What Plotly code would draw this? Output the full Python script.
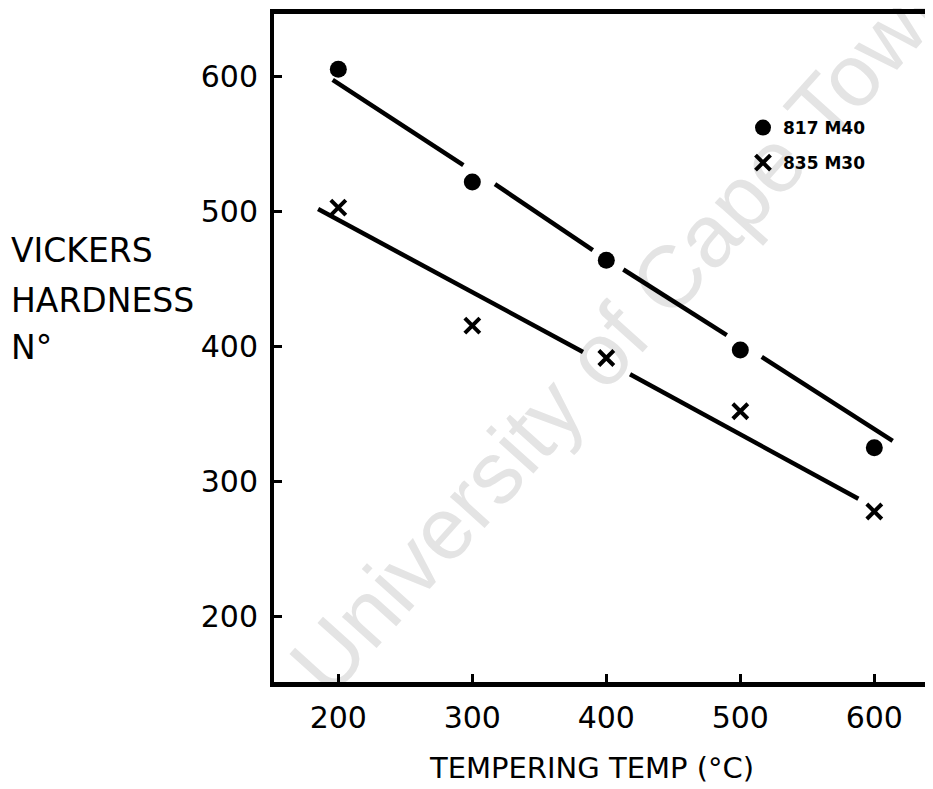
import plotly.graph_objects as go

# ---- data ----
temps = [200, 300, 400, 500, 600]
hv_817_m40 = [605.5, 522, 464, 397.5, 325]
hv_835_m30 = [503, 415.5, 391.5, 352, 277.7]

# hand-drawn fit lines (broken around some points)
fit_817_x = [195.8, 293.3, None, 316.9, 389.9, None, 412.7, 489.9, None, 516.0, 613.7]
fit_817_y = [597.6, 534.5, None, 520.4, 471.4, None, 457.1, 408.4, None, 392.3, 330.0]
fit_835_x = [184.9, 382.6, None, 417.7, 588.1]
fit_835_y = [501.9, 396.0, None, 379.4, 287.2]

x_ticks = [200, 300, 400, 500, 600]
y_ticks = [200, 300, 400, 500, 600]

FONT = "DejaVu Sans"

# page offset of the body margin (8 px) is compensated in the figure size/margins
PLOT_L, PLOT_R, PLOT_T, PLOT_B = 274, 933, 14, 682
PW, PH = PLOT_R - PLOT_L, PLOT_B - PLOT_T


def px(xp):
    return (xp - PLOT_L) / PW


def py(yp):
    return (PLOT_B - yp) / PH


fig = go.Figure()
fig.add_trace(go.Scatter(x=fit_817_x, y=fit_817_y, mode="lines",
                         line=dict(color="black", width=4.5),
                         showlegend=False, hoverinfo="skip", connectgaps=False))
fig.add_trace(go.Scatter(x=fit_835_x, y=fit_835_y, mode="lines",
                         line=dict(color="black", width=4.5),
                         showlegend=False, hoverinfo="skip", connectgaps=False))
fig.add_trace(go.Scatter(x=temps, y=hv_817_m40, mode="markers", name="817 M40",
                         legendgroup="a",
                         marker=dict(symbol="circle", size=17, color="black")))
fig.add_trace(go.Scatter(x=temps, y=hv_835_m30, mode="markers", name="835 M30",
                         legendgroup="b",
                         marker=dict(symbol="x-thin-open", size=15, color="black",
                                     line=dict(color="black", width=4))))

fig.update_layout(
    width=925, height=781,
    margin=dict(l=266, r=0, t=6, b=107),
    paper_bgcolor="white", plot_bgcolor="white",
    font=dict(family=FONT, color="black"),
    showlegend=True,
    legend=dict(x=px(743), y=py(110), xanchor="left", yanchor="top",
                bgcolor="rgba(0,0,0,0)", tracegroupgap=10,
                font=dict(family=FONT, size=17, color="black", weight="bold")),
    xaxis=dict(range=[152.0, 643.8], tickvals=x_ticks, ticktext=[str(v) for v in x_ticks],
               showgrid=False, zeroline=False, showline=True, linecolor="black",
               linewidth=5, mirror=True, ticks="inside", ticklen=8, tickwidth=3,
               tickcolor="black", ticklabelstandoff=5,
               tickfont=dict(family=FONT, size=30, color="black")),
    yaxis=dict(range=[151.3, 646.5], tickvals=y_ticks, ticktext=[str(v) for v in y_ticks],
               showgrid=False, zeroline=False, showline=True, linecolor="black",
               linewidth=4, mirror=False, ticks="inside", ticklen=8, tickwidth=3,
               tickcolor="black", ticklabelstandoff=6,
               tickfont=dict(family=FONT, size=30, color="black")),
)

# watermark from the scan, drawn below the data
fig.add_shape(type="line", xref="paper", yref="paper",
              x0=px(655), y0=py(358), x1=px(655), y1=py(358),
              line=dict(color="rgba(0,0,0,0)", width=0), layer="below",
              label=dict(text="University of Cape Town", textangle=-48,
                         font=dict(family="Liberation Sans", size=88, color="#e4e4e4"),
                         textposition="middle"))

# axis titles
fig.add_annotation(text="TEMPERING TEMP (°C)", xref="paper", yref="paper",
                   x=px(591), y=py(768), xanchor="center", yanchor="middle", showarrow=False,
                   font=dict(family=FONT, size=29, color="black"))
for txt, ypix in [("VICKERS", 250), ("HARDNESS", 300), ("N°", 347)]:
    fig.add_annotation(text=txt, xref="paper", yref="paper",
                       x=px(9), y=py(ypix),
                       xanchor="left", yanchor="middle", showarrow=False,
                       font=dict(family=FONT, size=33, color="black"))

fig.write_html("out.html")
